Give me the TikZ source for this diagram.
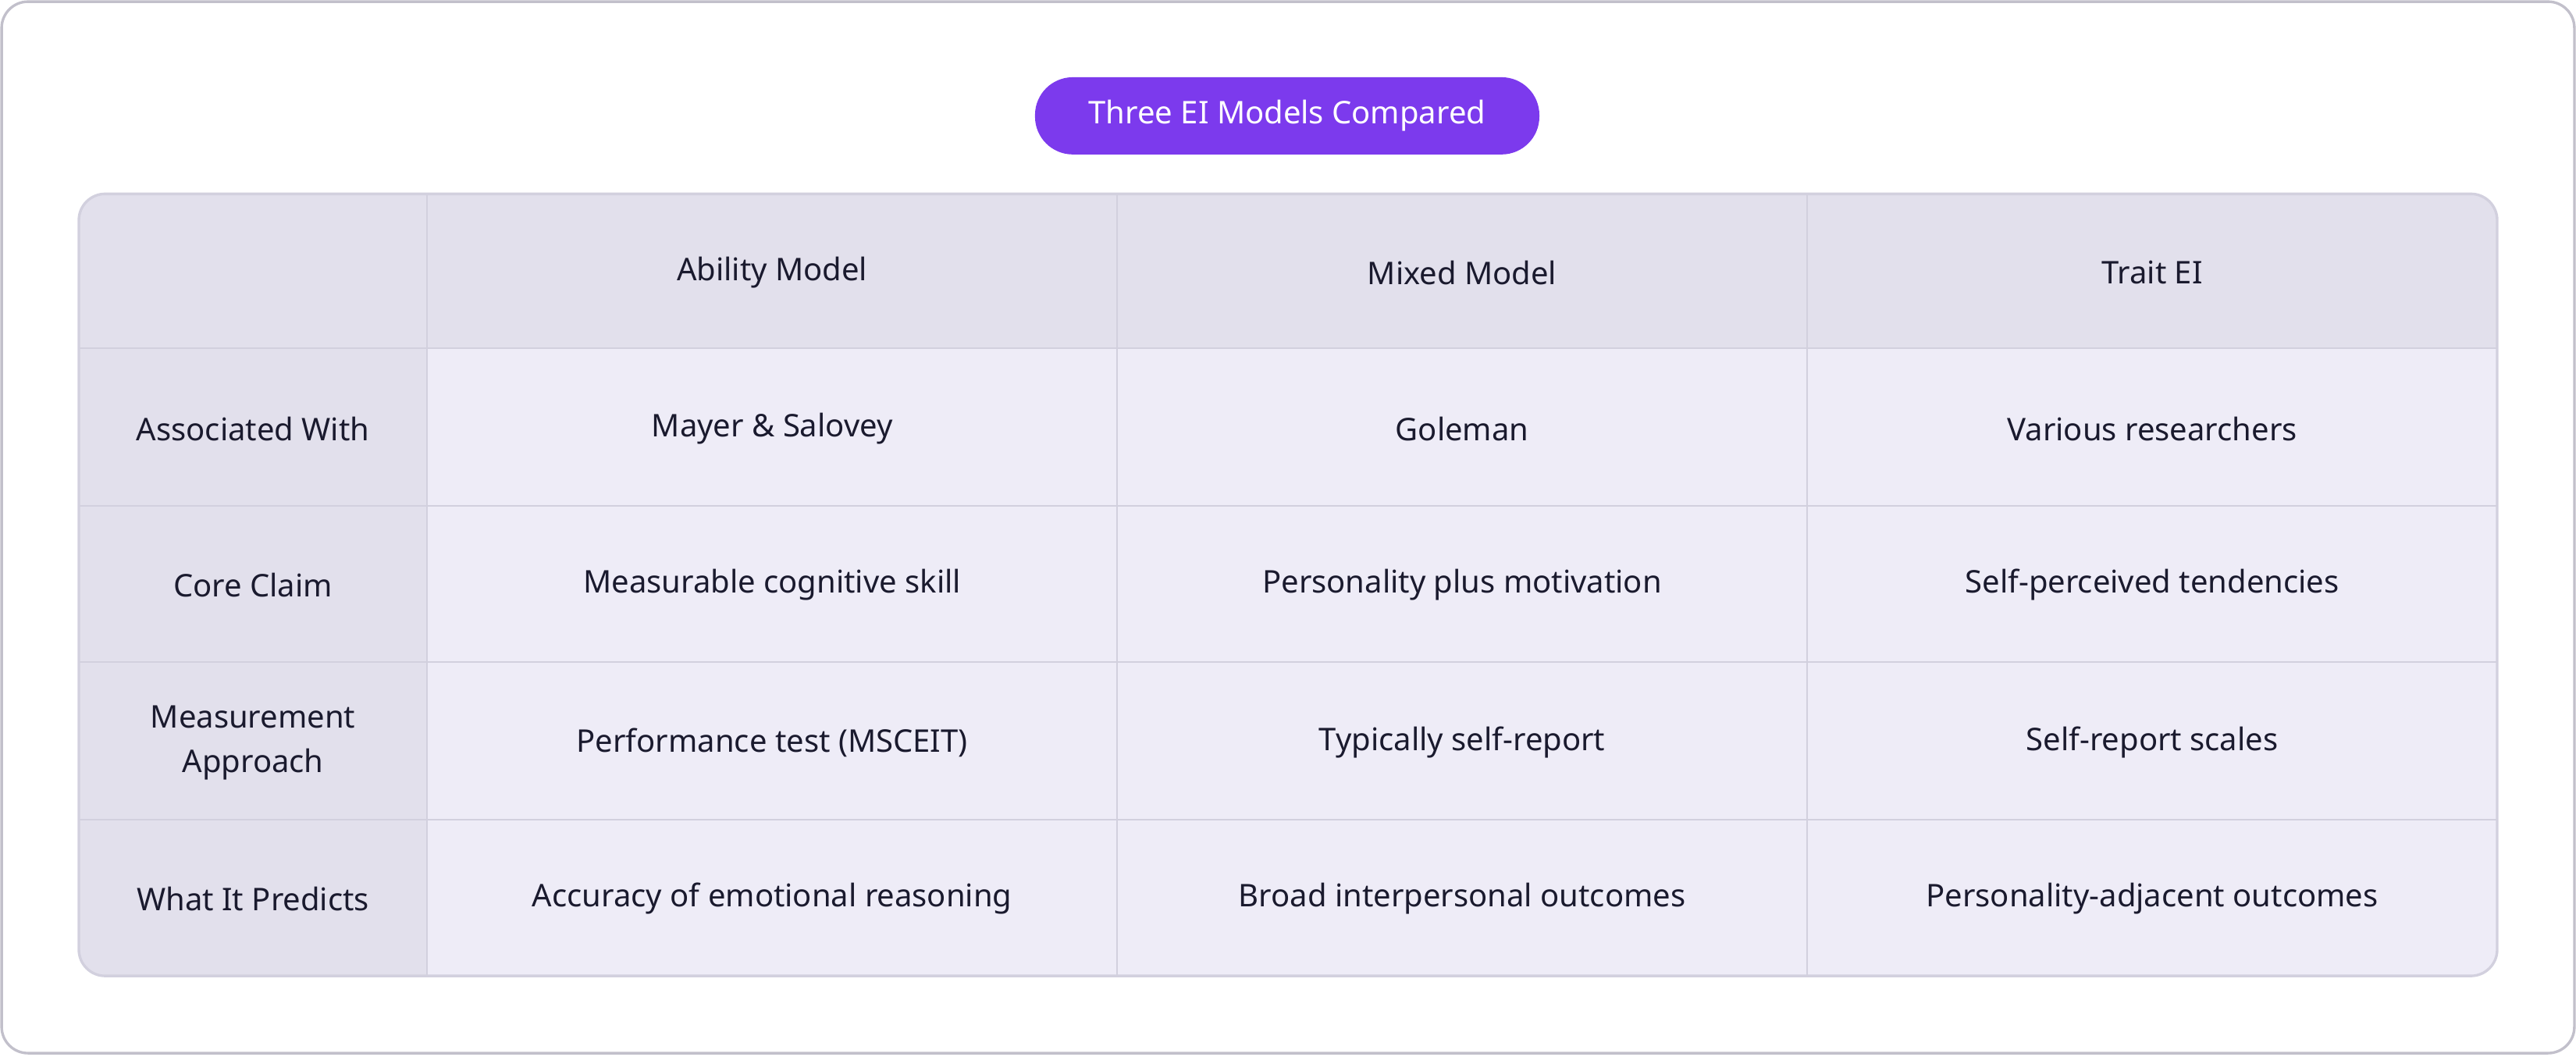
\documentclass[tikz,border=0pt]{standalone}
\usepackage{fontspec}
\setmainfont{Noto Sans}
\definecolor{pill}{HTML}{7C3AED}
\definecolor{headfill}{HTML}{E2E0EC}
\definecolor{cellfill}{HTML}{EEECF7}
\definecolor{gridline}{HTML}{D2D0DE}
\definecolor{ink}{HTML}{1A1A2E}
\begin{document}
\begin{tikzpicture}[x=0.5pt, y=-0.5pt,
    head/.style = {font=\fontsize{9.5}{11.5}\selectfont\bfseries, text=ink, align=center},
    cell/.style = {font=\fontsize{9.5}{11.5}\selectfont, text=ink, align=center}]
		%% FRAME
		\useasboundingbox (0,0) rectangle (1568,643);
		\draw[gridline!80!gray, line width=0.8pt, rounded corners=8pt] (1,1) rectangle (1567,641);
		% Title
		\node[fill=pill, rounded corners=11.5pt, minimum width=153.5pt, minimum height=23.5pt,
		      text=white, font=\fontsize{9.5}{11}\selectfont\bfseries] (title) at (783.5,70.5) {Three EI Models Compared};
		%% TABLE
		\begin{scope}
			\clip[rounded corners=8pt] (48,118) rectangle (1520,594);
			\fill[cellfill] (48,118) rectangle (1520,594);
			\fill[headfill] (48,118) rectangle (1520,212);
			\fill[headfill] (48,118) rectangle (260,594);
			\foreach \y in {212,308,403,499} \draw[gridline, line width=0.6pt] (48,\y) -- (1520,\y);
			\foreach \x in {260,680,1100} \draw[gridline, line width=0.6pt] (\x,118) -- (\x,594);
		\end{scope}
		\draw[gridline, line width=0.8pt, rounded corners=8pt] (48,118) rectangle (1520,594);
		% Header row
		\node[head] (h1) at (470,166) {Ability Model};
		\node[head] (h2) at (890,166) {Mixed Model};
		\node[head] (h3) at (1310,166) {Trait EI};
		% Row labels
		\node[head] (r1) at (154,261) {Associated With};
		\node[head] (r2) at (154,356) {Core Claim};
		\node[head] (r3) at (154,452) {Measurement\\[2pt]Approach};
		\node[head] (r4) at (154,547) {What It Predicts};
		% Cells
		\node[cell] (c11) at (470,261) {Mayer \& Salovey};
		\node[cell] (c12) at (890,261) {Goleman};
		\node[cell] (c13) at (1310,261) {Various researchers};
		\node[cell] (c21) at (470,356) {Measurable cognitive skill};
		\node[cell] (c22) at (890,356) {Personality plus motivation};
		\node[cell] (c23) at (1310,356) {Self-perceived tendencies};
		\node[cell] (c31) at (470,452) {Performance test (MSCEIT)};
		\node[cell] (c32) at (890,452) {Typically self-report};
		\node[cell] (c33) at (1310,452) {Self-report scales};
		\node[cell] (c41) at (470,547) {Accuracy of emotional reasoning};
		\node[cell] (c42) at (890,547) {Broad interpersonal outcomes};
		\node[cell] (c43) at (1310,547) {Personality-adjacent outcomes};
	\end{tikzpicture}
\end{document}
